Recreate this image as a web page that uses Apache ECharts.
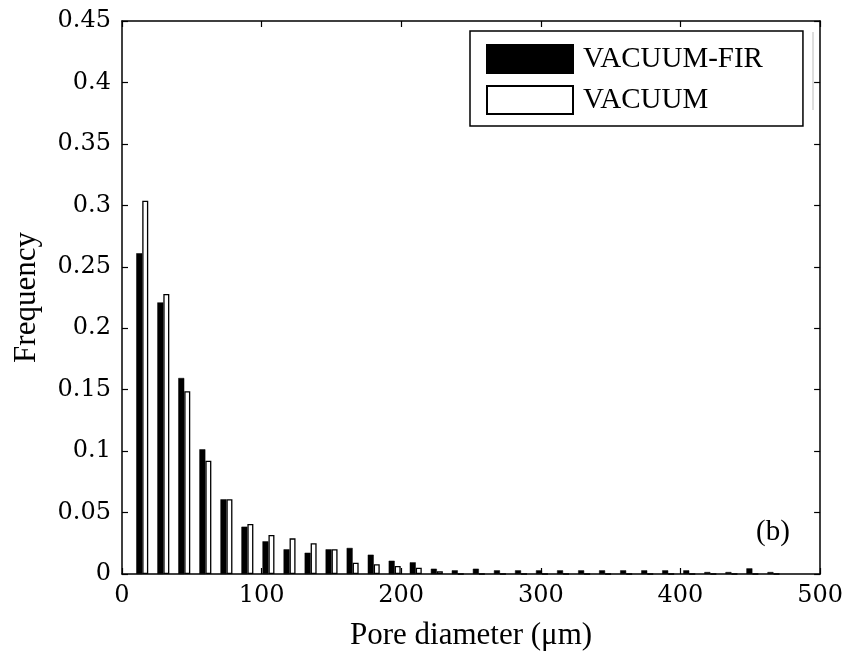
<!DOCTYPE html>
<html>
<head>
<meta charset="utf-8">
<script src="https://cdn.jsdelivr.net/npm/echarts@6/dist/echarts.min.js"></script>
<style>
  html, body { margin: 0; padding: 0; background: #fff; }
  #chart-container { width: 846px; height: 657px; }
</style>
</head>
<body>
<div id="chart-container"></div>
<script>
// bin centres (um)
var binCenters = [14.5, 29.6, 44.6, 59.7, 74.8, 89.8, 104.9, 120.0, 135.1, 150.1,
    165.2, 180.3, 195.3, 210.4, 225.5, 240.5, 255.6, 270.7, 285.8, 300.8,
    315.9, 331.0, 346.0, 361.1, 376.2, 391.2, 406.3, 421.4, 436.5, 451.5, 466.6];
var vacuumFir = [0.261, 0.221, 0.1595, 0.1015, 0.0608, 0.0385, 0.0266, 0.0201, 0.0173, 0.0201,
    0.0212, 0.0157, 0.0108, 0.0095, 0.0043, 0.003, 0.0043, 0.003, 0.003, 0.003,
    0.003, 0.003, 0.003, 0.003, 0.003, 0.003, 0.003, 0.0016, 0.0016, 0.0046, 0.0016];
var vacuum = [0.3038, 0.2278, 0.1487, 0.0922, 0.0608, 0.0407, 0.0317, 0.029, 0.025, 0.0201,
    0.0092, 0.0079, 0.0065, 0.0051, 0.0022, 0, 0, 0, 0, 0,
    0, 0, 0, 0, 0, 0, 0, 0, 0, 0, 0];
var seriesNames = ['VACUUM-FIR', 'VACUUM'];

var dom = document.getElementById('chart-container');
var myChart = echarts.init(dom, null, { renderer: 'canvas' });

var serif = '"Liberation Serif", "Times New Roman", serif';
var tickFont = '"DejaVu Serif", serif';

function pairs(vals) {
    return binCenters.map(function (c, i) { return [c, vals[i]]; });
}

function line() {
    return { show: true, onZero: false, lineStyle: { color: '#000', width: 1.5 } };
}
function ticks() {
    return { show: true, inside: true, length: 6, lineStyle: { color: '#000', width: 1.2 } };
}

var option = {
    animation: false,
    backgroundColor: '#fff',
    grid: { left: 122, right: 25, top: 21, bottom: 83 },
    legend: {
        orient: 'vertical',
        left: 470,
        top: 31,
        padding: [13, 40, 11, 16],
        itemWidth: 86,
        itemHeight: 28,
        itemGap: 11,
        borderColor: '#000',
        borderWidth: 1.5,
        backgroundColor: '#fff',
        borderRadius: 0,
        textStyle: { fontFamily: serif, fontSize: 29, color: '#000', padding: [0, 0, 0, 5] },
        data: seriesNames.map(function (n) { return { name: n, icon: 'rect' }; })
    },
    xAxis: [{
        type: 'value',
        min: 0, max: 500, interval: 100,
        position: 'bottom',
        axisLine: line(),
        axisTick: ticks(),
        splitLine: { show: false },
        axisLabel: { fontFamily: tickFont, fontSize: 24, color: '#000', margin: 10 },
        name: 'Pore diameter (\u03bcm)',
        nameLocation: 'middle',
        nameGap: 46,
        nameTextStyle: { fontFamily: serif, fontSize: 31, color: '#000' }
    }, {
        type: 'value',
        min: 0, max: 500, interval: 100,
        position: 'top',
        axisLine: line(),
        axisTick: ticks(),
        splitLine: { show: false },
        axisLabel: { show: false }
    }],
    yAxis: [{
        type: 'value',
        min: 0, max: 0.45, interval: 0.05,
        position: 'left',
        axisLine: line(),
        axisTick: ticks(),
        splitLine: { show: false },
        axisLabel: { fontFamily: tickFont, fontSize: 24, color: '#000', margin: 11 },
        name: 'Frequency',
        nameLocation: 'middle',
        nameGap: 80,
        nameTextStyle: { fontFamily: serif, fontSize: 31, color: '#000' }
    }, {
        type: 'value',
        min: 0, max: 0.45, interval: 0.05,
        position: 'right',
        axisLine: line(),
        axisTick: ticks(),
        splitLine: { show: false },
        axisLabel: { show: false }
    }],
    graphic: [{
        type: 'text',
        left: 756,
        top: 518,
        style: { text: '(b)', font: '29px ' + serif, fill: '#000' }
    }, {
        type: 'line',
        shape: { x1: 813, y1: 32, x2: 813, y2: 110 },
        style: { stroke: '#bbb', lineWidth: 1 }
    }],
    series: [{
        name: seriesNames[0],
        type: 'bar',
        barWidth: 6,
        barGap: '0%',
        itemStyle: { color: '#000', borderColor: '#000', borderWidth: 0.5 },
        data: pairs(vacuumFir)
    }, {
        name: seriesNames[1],
        type: 'bar',
        barWidth: 6,
        barGap: '0%',
        itemStyle: { color: '#fff', borderColor: '#000', borderWidth: 1.3 },
        data: pairs(vacuum)
    }]
};

myChart.setOption(option);
window.addEventListener('resize', myChart.resize);
</script>
</body>
</html>
